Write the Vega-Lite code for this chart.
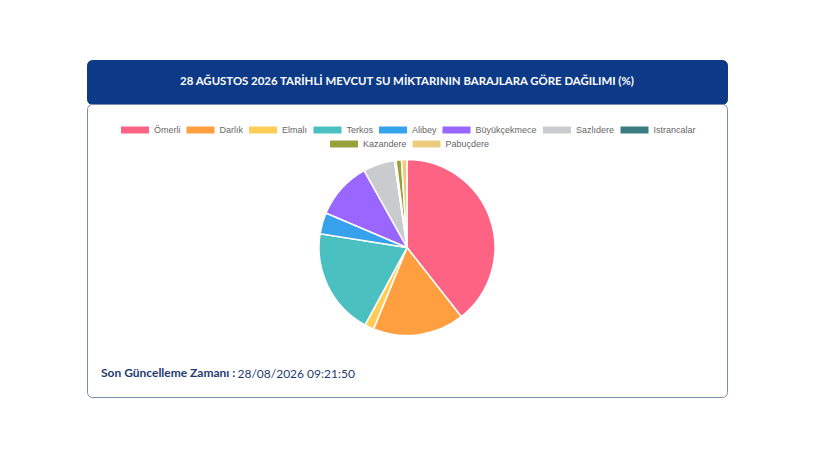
{
  "$schema": "https://vega.github.io/schema/vega-lite/v6.json",
  "background": "white",
  "padding": {"left": 86, "top": 59, "right": 0, "bottom": 0},
  "bounds": "flush",
  "title": {
    "text": "28/08/2026 09:21:50",
    "orient": "bottom",
    "anchor": "start",
    "offset": -20,
    "dx": 151,
    "baseline": "alphabetic",
    "font": "Lato",
    "fontSize": 12,
    "fontWeight": "normal",
    "color": "#1f3b6f"
  },
  "spacing": 0,
  "vconcat": [
    {
      "width": 640,
      "height": 44,
      "view": {"fill": "#0d3a86", "stroke": "#0d3a86", "cornerRadius": 5},
      "data": {"values": [{"label": "28 AĞUSTOS 2026 TARİHLİ MEVCUT SU MİKTARININ BARAJLARA GÖRE DAĞILIMI (%)"}]},
      "mark": {"type": "text", "color": "white", "font": "Lato", "fontSize": 11.4, "fontWeight": "bold"},
      "encoding": {"text": {"field": "label", "type": "nominal"}}
    },
    {
      "width": 640,
      "height": 293,
      "view": {"fill": "white", "stroke": "#7d8cab", "cornerRadius": 5},
      "title": {
        "text": "Son Güncelleme Zamanı :",
        "orient": "bottom",
        "anchor": "start",
        "offset": -20,
        "dx": 14,
        "baseline": "alphabetic",
        "font": "Lato",
        "fontSize": 12,
        "fontWeight": "bold",
        "color": "#1f3b6f"
      },
      "data": {
        "values": [
          {"baraj": "Ömerli", "oran": 39.4},
          {"baraj": "Darlık", "oran": 16.8},
          {"baraj": "Elmalı", "oran": 1.7},
          {"baraj": "Terkos", "oran": 19.6},
          {"baraj": "Alibey", "oran": 3.9},
          {"baraj": "Büyükçekmece", "oran": 10.5},
          {"baraj": "Sazlıdere", "oran": 5.8},
          {"baraj": "Istrancalar", "oran": 0.3},
          {"baraj": "Kazandere", "oran": 1.0},
          {"baraj": "Pabuçdere", "oran": 1.0}
        ]
      },
      "layer": [
        {
          "transform": [{"window": [{"op": "row_number", "as": "sira"}]}],
          "mark": {"type": "arc", "radius": 88, "stroke": "white", "strokeWidth": 1.5, "yOffset": -3},
          "encoding": {
            "theta": {"field": "oran", "type": "quantitative", "stack": true},
            "order": {"field": "sira", "type": "quantitative"},
            "color": {
              "field": "baraj",
              "type": "nominal",
              "scale": {
                "domain": ["Ömerli", "Darlık", "Elmalı", "Terkos", "Alibey", "Büyükçekmece", "Sazlıdere", "Istrancalar", "Kazandere", "Pabuçdere"],
                "range": ["#ff6384", "#ff9f40", "#ffcd56", "#4bc0c0", "#36a2eb", "#9966ff", "#c9cbcf", "#3b7c80", "#9aa03c", "#eccd80"]
              },
              "legend": {
                "values": ["Ömerli", "Darlık", "Elmalı", "Terkos", "Alibey", "Büyükçekmece", "Sazlıdere", "Istrancalar"],
                "orient": "none",
                "legendX": 34,
                "legendY": 12,
                "direction": "horizontal",
                "title": null
              }
            }
          }
        },
        {
          "transform": [{"filter": {"field": "baraj", "oneOf": ["Kazandere", "Pabuçdere"]}}],
          "mark": {"type": "arc", "radius": 0},
          "encoding": {
            "color": {
              "field": "baraj",
              "type": "nominal",
              "scale": {"domain": ["Kazandere", "Pabuçdere"], "range": ["#9aa03c", "#eccd80"]},
              "legend": {
                "orient": "none",
                "legendX": 243,
                "legendY": 26,
                "direction": "horizontal",
                "title": null
              }
            }
          }
        }
      ],
      "resolve": {"scale": {"color": "independent"}}
    }
  ],
  "config": {
    "legend": {
      "labelFont": "Liberation Sans",
      "labelFontSize": 9,
      "labelColor": "#666666",
      "symbolType": "M-1,-0.25H1V0.25H-1Z",
      "symbolSize": 784,
      "symbolStrokeWidth": 0,
      "symbolOpacity": 1,
      "labelOffset": 5,
      "columnPadding": 5.5,
      "padding": 0
    }
  }
}
